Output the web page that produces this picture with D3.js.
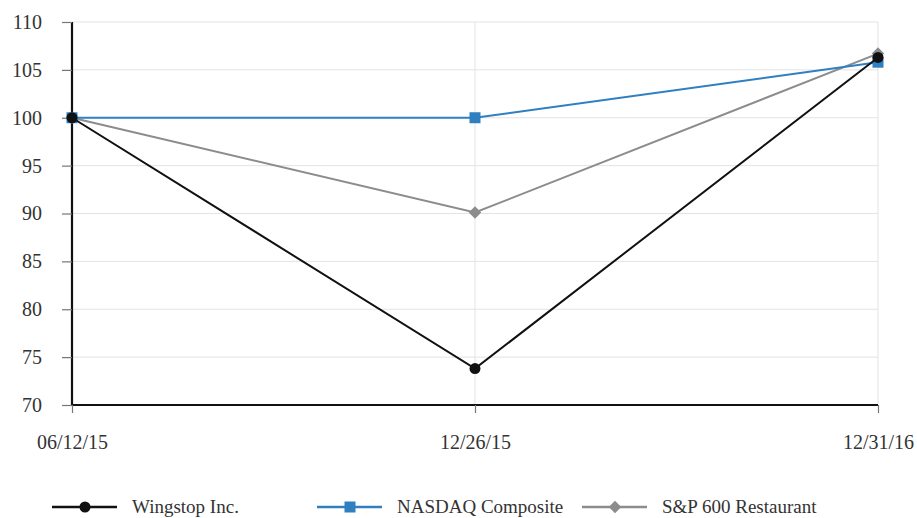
<!DOCTYPE html>
<html lang="en">
<head>
<meta charset="UTF-8">
<title>Cumulative return</title>
<script src="https://cdn.jsdelivr.net/npm/d3@7"></script>
<style>
  body { margin: 0; background: #fff; }
</style>
</head>
<body>
<script>
var dates = ["06/12/15", "12/26/15", "12/31/16"];
var wingstop = [100, 73.8, 106.3];
var nasdaq = [100, 100, 105.8];
var sp600 = [100, 90.1, 106.7];
var yTicks = [70, 75, 80, 85, 90, 95, 100, 105, 110];

var series = [
  {name: "Wingstop Inc.", values: wingstop, color: "#111", marker: "circle", legendX: 52},
  {name: "NASDAQ Composite", values: nasdaq, color: "#2f7fc1", marker: "square", legendX: 317},
  {name: "S&P 600 Restaurant", values: sp600, color: "#8c8c8c", marker: "diamond", legendX: 582}
];

var FONT = "'Liberation Serif', 'DejaVu Serif', serif";
var W = 917, H = 518;
var svg = d3.select("body").append("svg").attr("width", W).attr("height", H)
  .style("font-family", FONT);

var x = d3.scalePoint().domain(dates).range([72, 878]);
var y = d3.scaleLinear().domain([70, 110]).range([405, 22]);

// grid
svg.append("g").selectAll("line.h").data(yTicks.slice(1)).enter()
  .append("line")
  .attr("x1", 72).attr("x2", 878)
  .attr("y1", function(d) { return y(d); }).attr("y2", function(d) { return y(d); })
  .attr("stroke", "#e3e3e3").attr("stroke-width", 1);
svg.append("g").selectAll("line.v").data(dates.slice(1)).enter()
  .append("line")
  .attr("x1", function(d) { return x(d); }).attr("x2", function(d) { return x(d); })
  .attr("y1", 22).attr("y2", 405)
  .attr("stroke", "#e3e3e3").attr("stroke-width", 1);

// axes
var yAxis = svg.append("g").attr("transform", "translate(72,0)")
  .call(d3.axisLeft(y).tickValues(yTicks).tickSize(10).tickPadding(20));
var xAxis = svg.append("g").attr("transform", "translate(0,405)")
  .call(d3.axisBottom(x).tickSize(8).tickPadding(22));
[yAxis, xAxis].forEach(function(a) {
  a.attr("font-family", FONT);
  a.select(".domain").attr("stroke", "#111").attr("stroke-width", 2.2);
  a.selectAll(".tick line").attr("stroke", "#777").attr("stroke-width", 1.2);
  a.selectAll(".tick text").style("font-family", FONT).style("font-size", "20px").attr("fill", "#333");
});
xAxis.select(".domain").attr("d", "M72,0H878");
yAxis.select(".domain").attr("d", "M0,22V405");

var line = d3.line()
  .x(function(d, i) { return x(dates[i]); })
  .y(function(d) { return y(d); });

function drawMarker(g, type, cx, cy, color) {
  if (type === "circle") {
    g.append("circle").attr("cx", cx).attr("cy", cy).attr("r", 5.5).attr("fill", color);
  } else if (type === "square") {
    g.append("rect").attr("x", cx - 5.5).attr("y", cy - 5.5).attr("width", 11).attr("height", 11).attr("fill", color);
  } else {
    g.append("path").attr("d", d3.symbol().type(d3.symbolDiamond2).size(100)())
      .attr("transform", "translate(" + cx + "," + cy + ")").attr("fill", color);
  }
}

// draw S&P first, then NASDAQ, then Wingstop on top
[series[2], series[1], series[0]].forEach(function(s) {
  var g = svg.append("g");
  g.append("path").datum(s.values).attr("d", line)
    .attr("fill", "none").attr("stroke", s.color).attr("stroke-width", 2);
  s.values.forEach(function(v, i) {
    drawMarker(g, s.marker, x(dates[i]), y(v), s.color);
  });
});

// legend
var ly = 507;
series.forEach(function(s) {
  var g = svg.append("g");
  g.append("line").attr("x1", s.legendX).attr("x2", s.legendX + 65)
    .attr("y1", ly).attr("y2", ly).attr("stroke", s.color).attr("stroke-width", 2.5);
  drawMarker(g, s.marker, s.legendX + 33, ly, s.color);
  g.append("text").attr("x", s.legendX + 80).attr("y", ly + 6)
    .style("font-family", FONT).style("font-size", "19px").attr("fill", "#333")
    .text(s.name);
});
</script>
</body>
</html>
